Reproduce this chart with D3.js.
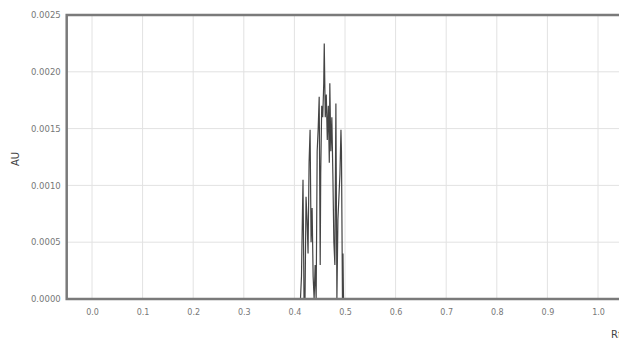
<!DOCTYPE html>
<html>
<head>
<meta charset="utf-8">
<script src="https://cdn.jsdelivr.net/npm/d3@7"></script>
<style>
  html, body { margin: 0; padding: 0; background: #fff; overflow: hidden; }
</style>
</head>
<body>
<div id="chart"></div>
<script>
// trace (Rf vs AU)
var rf = [0.0, 0.412, 0.414, 0.415, 0.417, 0.419, 0.421, 0.423, 0.425, 0.427, 0.429, 0.431, 0.433, 0.435,
          0.437, 0.439, 0.441, 0.443, 0.445, 0.447, 0.449, 0.451, 0.452, 0.454, 0.456, 0.458, 0.459,
          0.461, 0.463, 0.465, 0.467, 0.469, 0.470, 0.472, 0.474, 0.476, 0.478, 0.480, 0.482, 0.484,
          0.486, 0.488, 0.490, 0.492, 0.493, 0.495, 0.496, 0.497, 1.05];
var au = [0, 0, 0.0002, 0.0005, 0.00105, 0.0, 0.0, 0.0009, 0.0007, 0.0004, 0.0012, 0.00149, 0.0005, 0.0008,
          0.0002, 0.0, 0.0003, 0.0, 0.0013, 0.0015, 0.00178, 0.0003, 0.0011, 0.0017, 0.0016, 0.0019, 0.00225,
          0.0016, 0.0018, 0.0014, 0.0017, 0.0012, 0.0019, 0.0013, 0.0016, 0.0011, 0.0005, 0.0003, 0.00172, 0.0,
          0.0007, 0.0009, 0.0011, 0.00149, 0.0013, 0.0, 0.0004, 0.0, 0];
var xTicks = [0.0, 0.1, 0.2, 0.3, 0.4, 0.5, 0.6, 0.7, 0.8, 0.9, 1.0];
var yTicks = [0, 0.0005, 0.0010, 0.0015, 0.0020, 0.0025];

var width = 619, height = 341;
var margin = { top: 15, right: -4.3, bottom: 42, left: 66.7 };
var font = '"DejaVu Sans", sans-serif';

var svg = d3.select('#chart').append('svg')
    .attr('width', width)
    .attr('height', height);

var x = d3.scaleLinear().domain([-0.05, 1.05]).range([margin.left, width - margin.right]);
var y = d3.scaleLinear().domain([0, 0.0025]).range([height - margin.bottom, margin.top]);

// grid
svg.append('g').selectAll('line.v')
    .data(xTicks).enter().append('line')
    .attr('x1', function(d) { return x(d); })
    .attr('x2', function(d) { return x(d); })
    .attr('y1', y(0.0025)).attr('y2', y(0))
    .attr('stroke', '#e2e2e2').attr('stroke-width', 1);

svg.append('g').selectAll('line.h')
    .data(yTicks).enter().append('line')
    .attr('x1', x(-0.05)).attr('x2', x(1.05))
    .attr('y1', function(d) { return y(d); })
    .attr('y2', function(d) { return y(d); })
    .attr('stroke', '#e2e2e2').attr('stroke-width', 1);

// axes labels
var xAxis = d3.axisBottom(x).tickValues(xTicks).tickSize(0).tickPadding(10)
    .tickFormat(d3.format('.1f'));
var yAxis = d3.axisLeft(y).tickValues(yTicks).tickSize(0).tickPadding(6)
    .tickFormat(d3.format('.4f'));

svg.append('g')
    .attr('transform', 'translate(0,' + y(0) + ')')
    .call(xAxis)
    .call(function(g) { g.select('.domain').remove(); })
    .selectAll('text')
    .attr('fill', '#777')
    .style('font-family', font)
    .style('font-size', '8px');

svg.append('g')
    .attr('transform', 'translate(' + x(-0.05) + ',0)')
    .call(yAxis)
    .call(function(g) { g.select('.domain').remove(); })
    .selectAll('text')
    .attr('fill', '#777')
    .style('font-family', font)
    .style('font-size', '8.5px');

// trace
var line = d3.line()
    .x(function(d, i) { return x(rf[i]); })
    .y(function(d) { return y(d); });

svg.append('path')
    .datum(au)
    .attr('d', line)
    .attr('fill', 'none')
    .attr('stroke', '#444')
    .attr('stroke-width', 1.2)
    .attr('stroke-linejoin', 'miter');

// frame (right side runs past the window edge)
svg.append('rect')
    .attr('x', x(-0.05)).attr('y', y(0.0025))
    .attr('width', x(1.05) - x(-0.05) + 6)
    .attr('height', y(0) - y(0.0025))
    .attr('fill', 'none')
    .attr('stroke', '#7a7a7a')
    .attr('stroke-width', 2.5);

// axis titles
svg.append('text')
    .attr('transform', 'translate(19,' + (y(0.00125) + 2) + ') rotate(-90)')
    .attr('text-anchor', 'middle')
    .attr('fill', '#444')
    .style('font-family', font)
    .style('font-size', '10px')
    .text('AU');

svg.append('text')
    .attr('x', 611)
    .attr('y', 338)
    .attr('fill', '#444')
    .style('font-family', font)
    .style('font-size', '10px')
    .text('Rf');
</script>
</body>
</html>
